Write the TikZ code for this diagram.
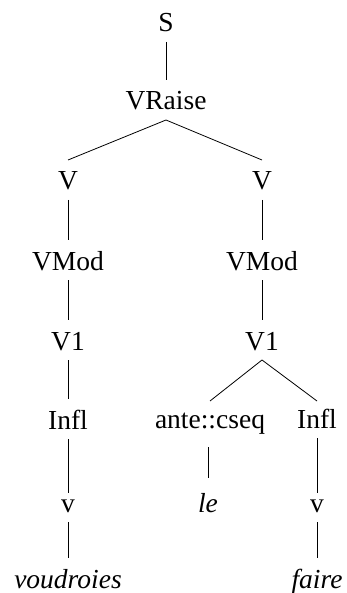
\documentclass[tikz,border=0pt]{standalone}
\usepackage{fontspec}
\setmainfont{Liberation Serif}
\usetikzlibrary{positioning}

\begin{document}
\begin{tikzpicture}[x=1pt, y=-1pt, -, line width=0.8pt,
		every node/.style={inner sep=0pt, outer sep=0pt, anchor=base,
			font=\fontsize{27.5}{32}\selectfont, text height=30pt, text depth=10pt},
		low/.style={text height=19pt},
		tall/.style={text height=34pt},
		side/.style={text height=27pt},
		word/.style={font=\fontsize{27.5}{32}\selectfont\itshape}]
		\useasboundingbox (0,0) rectangle (347,593);
		\node (q0) at (166,32) {S};
		\node (q1) at (166,110) {VRaise};
		\node (q2) at (68,190) {V};
		\node (q3) at (262,190) {V};
		\node (q4) at (68,270) {VMod};
		\node (q5) at (262,270) {VMod};
		\node (q6) at (68,350) {V1};
		\node (q7) at (262,350) {V1};
		\node (q8) at (68,429) {Infl};
		\node[side, text depth=19pt] (q9) at (210,428) {ante::cseq};
		\node[side] (q10) at (317,428) {Infl};
		\node[low] (q11) at (68,512) {v};
		\node[tall, word] (q12) at (208,512) {le};
		\node[low] (q13) at (317,512) {v};
		\node[word] (q14) at (68,588) {voudroies};
		\node[word] (q15) at (317,588) {faire};
		
		
		\draw (q0) edge (q1) ;
		\draw (q1.south) edge (q2.north) ;
		\draw (q1.south) edge (q3.north) ;
		\draw (q2) edge (q4) ;
		\draw (q3) edge (q5) ;
		\draw (q4) edge (q6) ;
		\draw (q5) edge (q7) ;
		\draw (q6) edge (q8) ;
		\draw (q7.south) edge (q9.north) ;
		\draw (q7.south) edge (q10.north) ;
		\draw (q8) edge (q11) ;
		\draw (q12.north |- q9.south) -- (q12.north) ;
		\draw (q10) edge (q13) ;
		\draw (q11) edge (q14) ;
		\draw (q13) edge (q15) ;
	\end{tikzpicture}
\end{document}
